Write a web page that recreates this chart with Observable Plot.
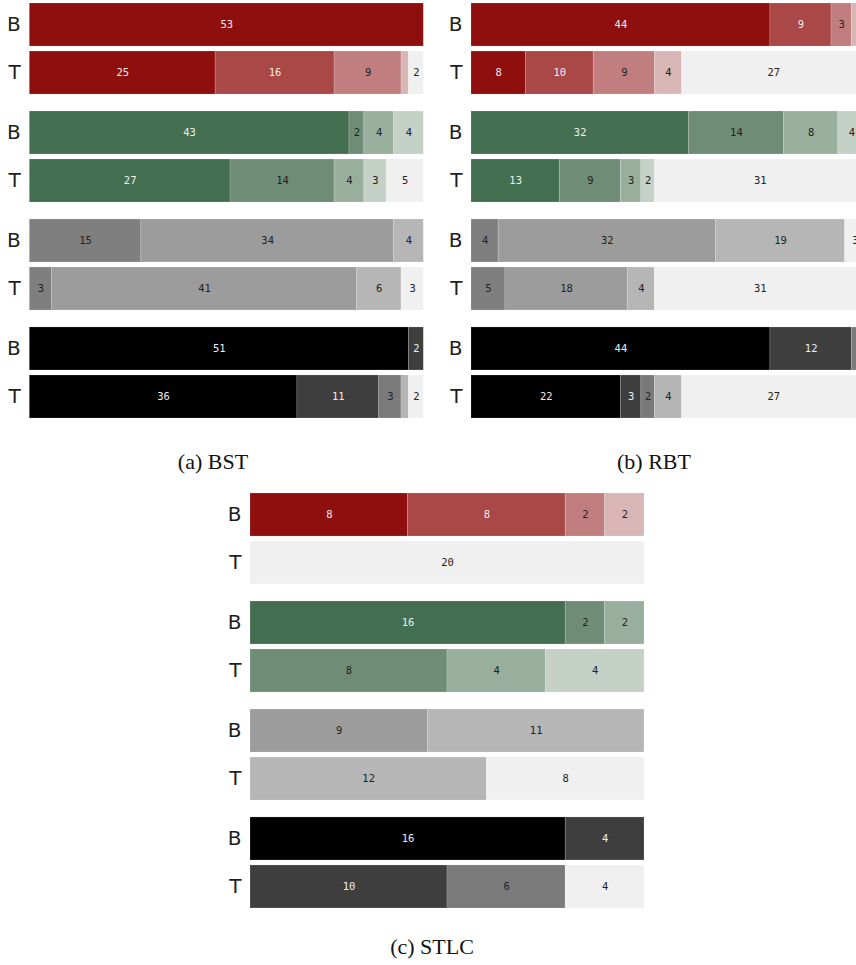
<!DOCTYPE html>
<html>
<head>
<meta charset="utf-8">
<script src="https://cdn.jsdelivr.net/npm/d3@7"></script>
<script src="https://cdn.jsdelivr.net/npm/@observablehq/plot@0.6"></script>
<style>
  html, body { margin: 0; padding: 0; background: #fff; overflow: hidden; }
  #root { position: relative; width: 856px; height: 965px; overflow: hidden; background: #fff; }
  .panel { position: absolute; }
  .panel svg { display: block; max-width: none !important; }
  .cap { position: absolute; width: 200px; text-align: center; font-family: "Liberation Serif", "Times New Roman", serif; font-size: 22px; line-height: 22px; color: #111; }
  svg g[aria-label^="y-axis"] text { font-family: "DejaVu Sans", sans-serif; font-size: 20px; fill: #1e1e1e; }
</style>
</head>
<body>
<div id="root"></div>
<script>
// ---- categories ----
const groups = ["red", "green", "gray", "black"];
const rows = ["B", "T"];
const levels = ["L0", "L1", "L2", "L3", "none"];

// ---- colours per group (levels L0..L3) ----
const redShades = ["#8f0e0e", "#aa4747", "#c07e7e", "#d9b6b6"];
const greenShades = ["#446e50", "#6f8d76", "#99af9d", "#c5d0c7"];
const grayShades = ["#7f7f7f", "#9c9c9c", "#b6b6b6", "#d3d3d3"];
const blackShades = ["#000000", "#3e3e3e", "#7a7a7a", "#b5b5b5"];
const noneShade = "#eff0ef";
// label ink per level (light text on dark segments)
const redInk = ["#eeeeee", "#eeeeee", "#222", "#222"];
const greenInk = ["#eeeeee", "#222", "#222", "#222"];
const grayInk = ["#222", "#222", "#222", "#222"];
const blackInk = ["#eeeeee", "#eeeeee", "#222", "#222"];

// ---- values: [B row], [T row]; each row = L0, L1, L2, L3, none ----
// (a) BST
const bstRed   = [[53, 0, 0, 0, 0], [25, 16, 9, 1, 2]];
const bstGreen = [[43, 2, 4, 4, 0], [27, 14, 4, 3, 5]];
const bstGray  = [[15, 34, 4, 0, 0], [3, 41, 6, 0, 3]];
const bstBlack = [[51, 2, 0, 0, 0], [36, 11, 3, 1, 2]];
// (b) RBT
const rbtRed   = [[44, 9, 3, 2, 0], [8, 10, 9, 4, 27]];
const rbtGreen = [[32, 14, 8, 4, 0], [13, 9, 3, 2, 31]];
const rbtGray  = [[4, 32, 19, 0, 3], [5, 18, 4, 0, 31]];
const rbtBlack = [[44, 12, 2, 0, 0], [22, 3, 2, 4, 27]];
// (c) STLC
const stlcRed   = [[8, 8, 2, 2, 0], [0, 0, 0, 0, 20]];
const stlcGreen = [[16, 2, 2, 0, 0], [0, 8, 4, 4, 0]];
const stlcGray  = [[0, 9, 11, 0, 0], [0, 0, 12, 0, 8]];
const stlcBlack = [[16, 4, 0, 0, 0], [0, 10, 6, 0, 4]];

const captions = ["(a) BST", "(b) RBT", "(c) STLC"];

const shadesOf = {red: redShades, green: greenShades, gray: grayShades, black: blackShades};
const inkOf = {red: redInk, green: greenInk, gray: grayInk, black: blackInk};

function buildTable(groupArrays) {
  const out = [];
  groups.forEach((g, gi) => {
    rows.forEach((r, ri) => {
      groupArrays[gi][ri].forEach((v, li) => {
        out.push({
          group: g, row: r, level: levels[li], value: v,
          fill: li < 4 ? shadesOf[g][li] : noneShade,
          ink: li < 4 ? inkOf[g][li] : "#222"
        });
      });
    });
  });
  return out;
}

function panel(data, {width, marginLeft}) {
  return Plot.plot({
    width,
    height: 420,
    marginLeft,
    marginRight: width - marginLeft - 394,
    marginTop: 3,
    marginBottom: 2,
    style: {background: "transparent", color: "#1e1e1e"},
    x: {domain: [0, 1], axis: null, round: false},
    y: {domain: rows, label: null, tickSize: 0, tickPadding: 9, paddingInner: 0.104, paddingOuter: 0, round: false},
    fy: {domain: groups, axis: null, label: null, paddingInner: 0.157, paddingOuter: 0, round: false},
    color: {type: "identity"},
    facet: {data, y: "group"},
    marks: [
      Plot.barX(data, Plot.stackX({
        offset: "normalize",
        x: "value", y: "row", z: "level", fill: "fill",
        stroke: "white", strokeOpacity: 0.2, strokeWidth: 0.8
      })),
      Plot.text(data, Plot.stackX({
        offset: "normalize",
        x: "value", y: "row", z: "level",
        text: d => d.value >= 2 ? String(d.value) : "",
        fill: "ink",
        fontFamily: "DejaVu Sans Mono, monospace",
        fontSize: 10.5
      }))
    ]
  });
}

const root = document.getElementById("root");
function place(node, left, top) {
  const div = document.createElement("div");
  div.className = "panel";
  div.style.left = left + "px";
  div.style.top = top + "px";
  div.appendChild(node);
  root.appendChild(div);
}
function caption(text, cx, cy) {
  const div = document.createElement("div");
  div.className = "cap";
  div.textContent = text;
  div.style.left = (cx - 100) + "px";
  div.style.top = (cy - 11) + "px";
  root.appendChild(div);
}

place(panel(buildTable([bstRed, bstGreen, bstGray, bstBlack]), {width: 426, marginLeft: 29.3}), 0, 0);
place(panel(buildTable([rbtRed, rbtGreen, rbtGray, rbtBlack]), {width: 440, marginLeft: 41}), 430, 0);
place(panel(buildTable([stlcRed, stlcGreen, stlcGray, stlcBlack]), {width: 440, marginLeft: 41}), 209, 490);

caption(captions[0], 213, 462);
caption(captions[1], 654, 462);
caption(captions[2], 432, 947);
</script>
</body>
</html>
